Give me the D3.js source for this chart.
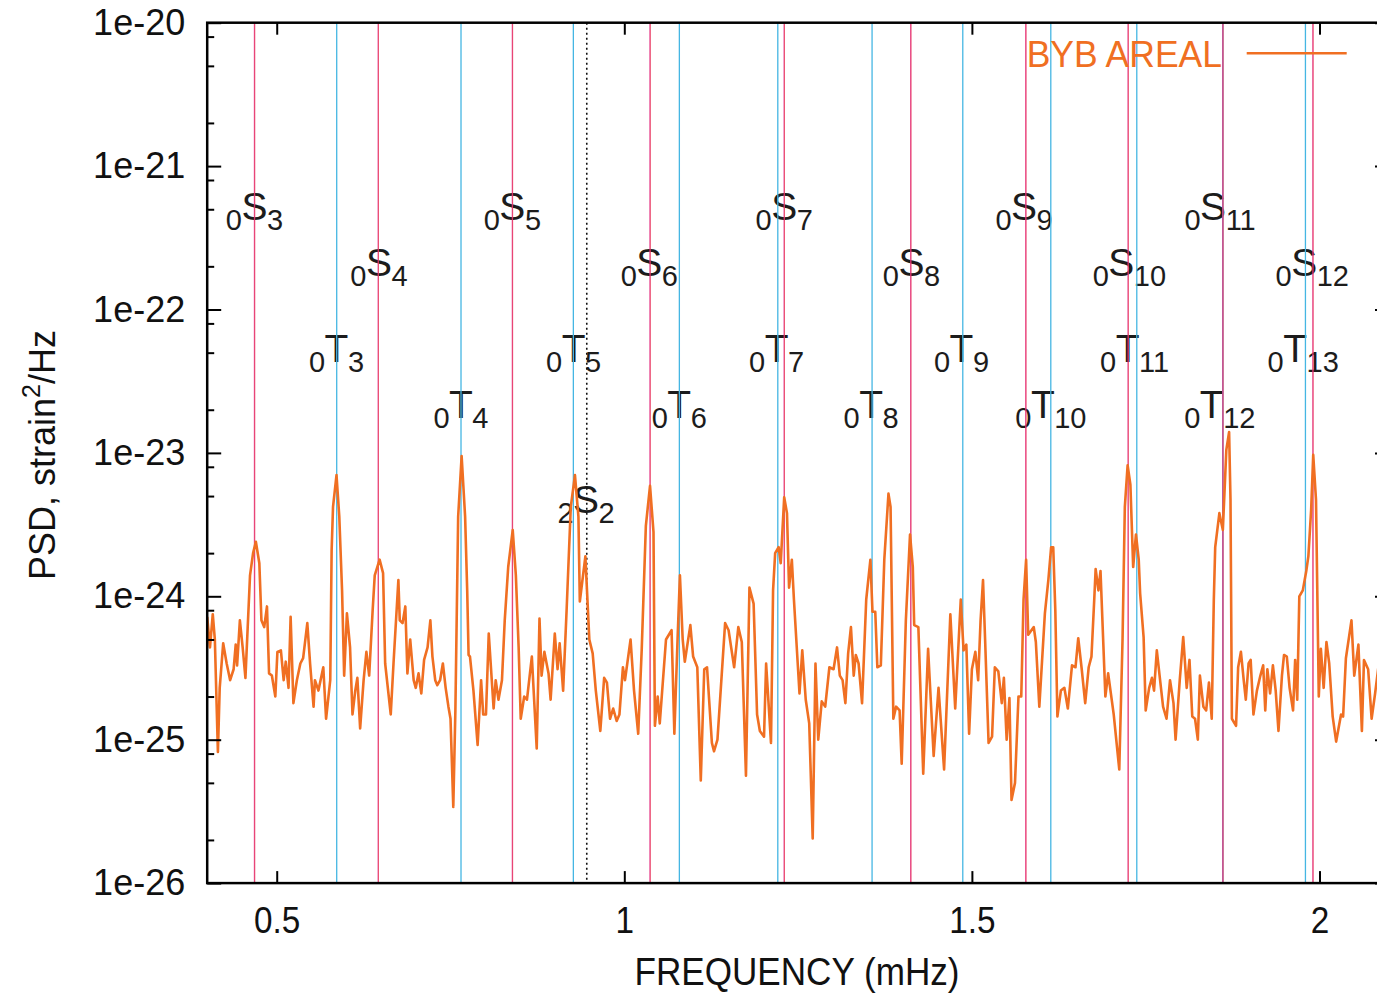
<!DOCTYPE html>
<html><head><meta charset="utf-8">
<script src="https://cdn.jsdelivr.net/npm/d3@7"></script>
<style>
body{margin:0;background:#fff;}
svg{display:block;}
text{font-family:"Liberation Sans",Arial,Helvetica,sans-serif;}
</style>
</head><body>
<svg id="c" width="1377" height="993"></svg>
<script>
// ---------------- DATA ----------------
const xDomain = [0.4, 2.1];          // mHz
const yDomain = [1e-26, 1e-20];      // strain^2/Hz
const xTicks = [0.5, 1, 1.5, 2];
const xTickLabels = ["0.5", "1", "1.5", "2"];
const yTicks = [1e-26, 1e-25, 1e-24, 1e-23, 1e-22, 1e-21, 1e-20];
const yTickLabels = ["1e-26", "1e-25", "1e-24", "1e-23", "1e-22", "1e-21", "1e-20"];
const yMinorTicks = [2e-26,5e-26,8e-26, 2e-25,5e-25,8e-25, 2e-24,5e-24,8e-24, 2e-23,5e-23,8e-23, 2e-22,5e-22,8e-22, 2e-21,5e-21,8e-21];

// spheroidal fundamental modes 0S3..0S12 (mHz)
const sModeFreq = [0.468, 0.646, 0.839, 1.037, 1.230, 1.412, 1.5775, 1.7247, 1.861, 1.9905];
// toroidal fundamental modes 0T3..0T13 (mHz)
const tModeFreq = [0.5863, 0.7651, 0.9267, 1.0792, 1.2208, 1.3564, 1.4869, 1.6135, 1.7372, 1.861, 1.9798];
// overtone 2S2 (mHz)
const overtoneFreq = [0.946];

// mode labels: overtone, type, degree, frequency (mHz), level (PSD)
const modeLabels = [
  {n:"0",t:"S",l:"3", f:0.468, lev:4.2e-22},
  {n:"0",t:"S",l:"5", f:0.839, lev:4.2e-22},
  {n:"0",t:"S",l:"7", f:1.230, lev:4.2e-22},
  {n:"0",t:"S",l:"9", f:1.575, lev:4.2e-22},
  {n:"0",t:"S",l:"11",f:1.847, lev:4.2e-22},
  {n:"0",t:"S",l:"4", f:0.647, lev:1.7e-22},
  {n:"0",t:"S",l:"6", f:1.036, lev:1.7e-22},
  {n:"0",t:"S",l:"8", f:1.413, lev:1.7e-22},
  {n:"0",t:"S",l:"10",f:1.715, lev:1.7e-22},
  {n:"0",t:"S",l:"12",f:1.978, lev:1.7e-22},
  {n:"0",t:"T",l:"3", f:0.586, lev:4.3e-23},
  {n:"0",t:"T",l:"5", f:0.927, lev:4.3e-23},
  {n:"0",t:"T",l:"7", f:1.219, lev:4.3e-23},
  {n:"0",t:"T",l:"9", f:1.485, lev:4.3e-23},
  {n:"0",t:"T",l:"11",f:1.724, lev:4.3e-23},
  {n:"0",t:"T",l:"13",f:1.965, lev:4.3e-23},
  {n:"0",t:"T",l:"4", f:0.765, lev:1.75e-23},
  {n:"0",t:"T",l:"6", f:1.079, lev:1.75e-23},
  {n:"0",t:"T",l:"8", f:1.355, lev:1.75e-23},
  {n:"0",t:"T",l:"10",f:1.602, lev:1.75e-23},
  {n:"0",t:"T",l:"12",f:1.845, lev:1.75e-23},
  {n:"2",t:"S",l:"2", f:0.945, lev:3.8e-24}
];

const seriesName = "BYB AREAL";
const freq = [
0.400,0.404,0.408,0.411,0.4154,0.418,0.423,0.428,0.433,0.438,
0.441,0.443,0.447,0.451,0.455,0.4616,0.466,0.470,0.475,0.478,
0.482,0.486,0.489,0.493,0.498,0.501,0.506,0.510,0.513,0.517,
0.520,0.524,0.529,0.534,0.538,0.544,0.548,0.553,0.555,0.560,
0.567,0.571,0.577,0.579,0.581,0.586,0.590,0.594,0.597,0.601,
0.6055,0.609,0.613,0.616,0.620,0.625,0.629,0.633,0.638,0.641,
0.648,0.653,0.656,0.664,0.668,0.675,0.677,0.681,0.685,0.688,
0.692,0.697,0.700,0.704,0.708,0.712,0.717,0.721,0.724,0.728,
0.731,0.735,0.739,0.743,0.747,0.750,0.754,0.757,0.761,0.766,
0.771,0.774,0.776,0.778,0.783,0.789,0.794,0.797,0.801,0.805,
0.812,0.815,0.819,0.824,0.828,0.833,0.8395,0.844,0.848,0.851,
0.856,0.860,0.867,0.874,0.878,0.881,0.885,0.891,0.894,0.900,
0.904,0.907,0.912,0.917,0.923,0.929,0.934,0.936,0.944,0.9497,
0.9545,0.959,0.9655,0.971,0.975,0.9795,0.984,0.989,0.993,0.998,
1.001,1.009,1.014,1.020,1.025,1.031,1.037,1.042,1.044,1.048,
1.051,1.060,1.068,1.072,1.0766,1.080,1.084,1.087,1.095,1.099,
1.105,1.110,1.115,1.119,1.126,1.129,1.134,1.145,1.150,1.158,
1.164,1.169,1.175,1.180,1.186,1.191,1.195,1.201,1.204,1.211,
1.214,1.217,1.222,1.225,1.230,1.234,1.237,1.241,1.244,1.252,
1.256,1.261,1.266,1.271,1.275,1.279,1.284,1.289,1.295,1.301,
1.306,1.310,1.314,1.318,1.322,1.326,1.330,1.333,1.337,1.342,
1.348,1.354,1.357,1.361,1.364,1.369,1.374,1.380,1.383,1.387,
1.391,1.396,1.399,1.405,1.411,1.415,1.417,1.423,1.430,1.437,
1.445,1.452,1.460,1.469,1.476,1.484,1.488,1.492,1.496,1.500,
1.505,1.509,1.5125,1.516,1.519,1.524,1.529,1.533,1.538,1.543,
1.546,1.550,1.554,1.557,1.562,1.567,1.571,1.5743,1.578,1.581,
1.589,1.592,1.597,1.605,1.610,1.614,1.617,1.620,1.623,1.628,
1.633,1.638,1.644,1.649,1.653,1.658,1.663,1.668,1.672,1.676,
1.678,1.682,1.685,1.692,1.696,1.704,1.712,1.7167,1.720,1.724,
1.728,1.732,1.736,1.740,1.742,1.747,1.750,1.755,1.759,1.762,
1.766,1.770,1.775,1.780,1.785,1.790,1.793,1.799,1.804,1.809,
1.813,1.817,1.821,1.825,1.828,1.833,1.837,1.841,1.845,1.848,
1.850,1.856,1.861,1.866,1.870,1.872,1.874,1.880,1.883,1.887,
1.891,1.894,1.898,1.901,1.905,1.910,1.915,1.919,1.922,1.925,
1.929,1.933,1.937,1.941,1.946,1.949,1.953,1.957,1.962,1.965,
1.968,1.971,1.976,1.981,1.984,1.988,1.991,1.995,1.999,2.002,
2.006,2.010,2.014,2.019,2.024,2.031,2.034,2.038,2.046,2.050,
2.056,2.061,2.064,2.070,2.075,2.080,2.086
];
const psd = [
7.2e-25,4.4e-25,7.5e-25,5e-25,8.2e-26,2.3e-25,4.7e-25,3.4e-25,2.6e-25,3.1e-25,
4.6e-25,3.3e-25,6.8e-25,4.4e-25,2.7e-25,1.4e-24,2.0e-24,2.4e-24,1.7e-24,6.8e-25,
6.1e-25,8.5e-25,2.9e-25,2.8e-25,2.0e-25,4.1e-25,4.2e-25,2.6e-25,3.5e-25,2.3e-25,
7.2e-25,1.8e-25,2.6e-25,3.4e-25,3.7e-25,6.5e-25,3.4e-25,1.7e-25,2.6e-25,2.2e-25,
3.2e-25,1.4e-25,2.6e-25,2.1e-24,4.2e-24,7e-24,3.6e-24,1.1e-24,2.8e-25,7.6e-25,
4.4e-25,1.5e-25,2.2e-25,2.7e-25,1.2e-25,2.6e-25,4.1e-25,2.8e-25,8e-25,1.4e-24,
1.8e-24,1.45e-24,3.4e-25,1.5e-25,3.4e-25,1.3e-24,6.8e-25,6.5e-25,8.5e-25,2.9e-25,
5e-25,2.6e-25,2.3e-25,2.9e-25,2.1e-25,3.6e-25,4.4e-25,6.8e-25,3.8e-25,2.6e-25,
2.4e-25,2.6e-25,3.4e-25,2.3e-25,1.7e-25,1.4e-25,3.4e-26,1.6e-25,3.6e-24,9.5e-24,
3.6e-24,1.1e-24,3.9e-25,3.8e-25,2.2e-25,9.2e-26,2.6e-25,1.5e-25,1.5e-25,5.5e-25,
1.65e-25,2.6e-25,1.9e-25,2.6e-25,6.8e-25,1.6e-24,2.9e-24,1.4e-24,4.4e-25,1.4e-25,
2.0e-25,1.9e-25,3.8e-25,8.7e-26,7e-25,2.8e-25,4.1e-25,2.9e-25,1.9e-25,5.5e-25,
3.1e-25,4.7e-25,2.2e-25,8e-25,4.2e-24,7e-24,3.6e-24,9.2e-25,1.9e-24,5e-25,
4e-25,2.2e-25,1.15e-25,2.7e-25,2.5e-25,1.4e-25,1.65e-25,1.35e-25,1.5e-25,3.2e-25,
2.6e-25,5e-25,2.2e-25,1.1e-25,4.2e-25,3.1e-24,5.9e-24,2.8e-24,1.25e-25,2.0e-25,
1.3e-25,5e-25,5.8e-25,1.1e-25,5e-25,1.4e-24,5e-25,3.5e-25,6.3e-25,3.8e-25,
3.2e-25,5.2e-26,3.1e-25,3.2e-25,9.5e-26,8.3e-26,1e-25,6.5e-25,5.8e-25,3.2e-25,
6.1e-25,4.8e-25,5.6e-26,1.15e-24,8.9e-25,1.5e-25,1.15e-25,1.05e-25,3.4e-25,9.5e-26,
1.1e-24,2e-24,2.2e-24,1.7e-24,4.9e-24,3.8e-24,1.15e-24,1.8e-24,9.5e-25,2.1e-25,
4.2e-25,1.9e-25,1.3e-25,2.05e-26,3.4e-25,1e-25,1.85e-25,1.7e-25,3.2e-25,3.1e-25,
4.4e-25,2.8e-25,2.6e-25,1.8e-25,4e-25,6.1e-25,2.8e-25,3.9e-25,3.4e-25,1.8e-25,
9.5e-25,1.8e-24,7.8e-25,7.8e-25,3.2e-25,3.3e-25,1.8e-24,5.2e-24,4.2e-24,1.4e-25,
1.7e-25,1.6e-25,6.8e-26,6.8e-25,2.7e-24,1.6e-24,6.3e-25,6.1e-25,5.8e-26,4.3e-25,
7.7e-26,2.3e-25,6.2e-26,7.5e-25,1.65e-25,9.5e-25,4.2e-25,4.6e-25,1.1e-25,3.1e-25,
4.1e-25,2.6e-25,6.8e-25,1.3e-24,5e-25,9.5e-26,1.05e-25,3.2e-25,3e-25,1.8e-25,
2.7e-25,1e-25,1.95e-25,3.8e-26,5e-26,2e-25,2e-25,9.5e-25,1.8e-24,5.4e-25,
6.1e-25,4.8e-25,1.7e-25,7.6e-25,1.3e-24,2.2e-24,2.2e-24,8e-25,1.45e-25,2.2e-25,
2.3e-25,1.65e-25,3.3e-25,3.2e-25,5.1e-25,3.1e-25,1.8e-25,3.2e-25,3.8e-25,9.5e-25,
1.55e-24,1.1e-24,1.5e-24,2e-25,2.9e-25,1.5e-25,6.2e-26,5e-25,4.2e-24,8.2e-24,
6e-24,1.6e-24,2.7e-24,1.8e-24,1.05e-24,5.2e-25,1.6e-25,2.3e-25,2.7e-25,2.2e-25,
4.2e-25,2.8e-25,1.7e-25,1.4e-25,2.6e-25,1.8e-25,1e-25,2.6e-25,5.2e-25,2.3e-25,
3.6e-25,1.45e-25,1.4e-25,1e-25,2.8e-25,1.7e-25,1.6e-25,2.5e-25,1.4e-25,9.5e-25,
2.2e-24,3.8e-24,2.9e-24,1.05e-23,1.4e-23,4.7e-24,1.4e-25,1.25e-25,3.2e-25,4.1e-25,
2.6e-25,1.9e-25,3.4e-25,3.6e-25,1.5e-25,2.2e-25,2.8e-25,3.3e-25,1.6e-25,3.1e-25,
2.1e-25,3.3e-25,2.2e-25,1.15e-25,2.8e-25,3.9e-25,3.8e-25,2.3e-25,1.6e-25,3.6e-25,
1.9e-25,1e-24,1.1e-24,1.5e-24,1.9e-24,4e-24,9.7e-24,4.7e-24,2e-25,4.3e-25,
2.3e-25,4.8e-25,3.4e-25,1.45e-25,9.7e-26,1.5e-25,1.45e-25,3.7e-25,6.8e-25,2.8e-25,
4.6e-25,1.15e-25,3.6e-25,3.1e-25,1.4e-25,2.1e-25,3.6e-25
];

// ---------------- DRAW ----------------
const FONT = '"Liberation Sans",Arial,Helvetica,sans-serif';
const svg = d3.select("#c");
const X0 = 207.2, X1 = 1389, Y0 = 22.7, Y1 = 883.1;
const x = d3.scaleLinear().domain(xDomain).range([X0, X1]);
const y = d3.scaleLog().domain(yDomain).range([Y1, Y0]);

svg.append("defs").append("clipPath").attr("id", "clip")
  .append("rect").attr("x", X0).attr("y", Y0).attr("width", X1 - X0).attr("height", Y1 - Y0);

// mode labels
const gl = svg.append("g").attr("fill", "#1c1c1c");
modeLabels.forEach(d => {
  const cx = x(d.f), by = y(d.lev);
  const main = gl.append("text").attr("x", cx).attr("y", by)
    .attr("text-anchor", "middle").attr("font-size", 39).text(d.t);
  const w = main.node().getComputedTextLength();
  gl.append("text").attr("x", cx - w / 2 + 0.5).attr("y", by + 10)
    .attr("text-anchor", "end").attr("font-size", 29).text(d.n);
  gl.append("text").attr("x", cx + w / 2 - 0.5).attr("y", by + 10)
    .attr("text-anchor", "start").attr("font-size", 29).text(d.l);
});

// mode lines
const gm = svg.append("g").attr("clip-path", "url(#clip)");
gm.selectAll("line.t").data(tModeFreq).join("line").attr("class", "t")
  .attr("x1", d => x(d)).attr("x2", d => x(d)).attr("y1", Y0).attr("y2", Y1)
  .attr("stroke", "#45b6e3").attr("stroke-width", 1.3);
gm.selectAll("line.sm").data(sModeFreq).join("line").attr("class", "sm")
  .attr("x1", d => x(d)).attr("x2", d => x(d)).attr("y1", Y0).attr("y2", Y1)
  .attr("stroke", "#e2288e").attr("stroke-width", 1.3).attr("stroke-opacity", 0.85);
gm.selectAll("line.sr").data(sModeFreq).join("line").attr("class", "sr")
  .attr("x1", d => x(d) + 0.3).attr("x2", d => x(d) + 0.3).attr("y1", Y0).attr("y2", Y1)
  .attr("stroke", "#ee4338").attr("stroke-width", 1).attr("stroke-opacity", 0.5);
gm.selectAll("line.o").data(overtoneFreq).join("line").attr("class", "o")
  .attr("x1", d => x(d)).attr("x2", d => x(d)).attr("y1", Y0).attr("y2", Y1)
  .attr("stroke", "#111").attr("stroke-width", 1.6).attr("stroke-dasharray", "2,3");

// data line
const pts = freq.map((f, i) => [f, psd[i]]);
gm.append("path").datum(pts)
  .attr("fill", "none").attr("stroke", "#f06f22").attr("stroke-width", 2.6)
  .attr("stroke-linejoin", "round")
  .attr("d", d3.line().x(d => x(d[0])).y(d => y(d[1])));

// axes
function styleAxis(g) {
  g.select(".domain").remove();
  g.selectAll("line").attr("stroke", "#000").attr("stroke-width", 2);
  g.attr("font-family", FONT);
}
svg.append("g").attr("transform", `translate(${X0},0)`)
  .call(d3.axisLeft(y).tickValues(yTicks).tickSize(-14).tickPadding(22)
    .tickFormat((d, i) => yTickLabels[i]))
  .call(styleAxis)
  .call(g => g.selectAll("text").attr("font-size", 36).attr("fill", "#111"));
svg.append("g").attr("transform", `translate(${X0},0)`)
  .call(d3.axisLeft(y).tickValues(yMinorTicks).tickSize(-7).tickFormat(""))
  .call(styleAxis);
svg.append("g").attr("transform", `translate(${X1},0)`)
  .call(d3.axisRight(y).tickValues(yTicks).tickSize(-14).tickFormat(""))
  .call(styleAxis);
svg.append("g").attr("transform", `translate(${X1},0)`)
  .call(d3.axisRight(y).tickValues(yMinorTicks).tickSize(-7).tickFormat(""))
  .call(styleAxis);
svg.append("g").attr("transform", `translate(0,${Y1})`)
  .call(d3.axisBottom(x).tickValues(xTicks).tickSize(-12).tickPadding(24)
    .tickFormat((d, i) => xTickLabels[i]))
  .call(styleAxis)
  .call(g => g.selectAll("text").attr("font-size", 37).attr("fill", "#111")
    .attr("transform", "scale(0.9,1)"));
svg.append("g").attr("transform", `translate(0,${Y0})`)
  .call(d3.axisTop(x).tickValues(xTicks).tickSize(-12).tickFormat(""))
  .call(styleAxis);

// frame
svg.append("rect").attr("x", X0).attr("y", Y0).attr("width", X1 - X0).attr("height", Y1 - Y0)
  .attr("fill", "none").attr("stroke", "#000").attr("stroke-width", 2.5);

// axis titles
svg.append("text").attr("transform", "translate(797,985) scale(0.9,1)")
  .attr("text-anchor", "middle").attr("font-size", 39).attr("fill", "#111")
  .text("FREQUENCY (mHz)");
const yt = svg.append("text").attr("transform", "translate(55,455) rotate(-90)")
  .attr("text-anchor", "middle").attr("font-size", 36).attr("fill", "#111");
yt.append("tspan").text("PSD, strain");
yt.append("tspan").attr("font-size", 25).attr("dy", -15).text("2");
yt.append("tspan").attr("dy", 15).text("/Hz");

// legend
svg.append("text").attr("transform", "translate(1222,66.5) scale(0.96,1)")
  .attr("text-anchor", "end").attr("font-size", 37).attr("fill", "#f06f22")
  .text(seriesName);
svg.append("line").attr("x1", 1246.7).attr("x2", 1346.7).attr("y1", 53.3).attr("y2", 53.3)
  .attr("stroke", "#f06f22").attr("stroke-width", 2.6);
</script>
</body></html>
